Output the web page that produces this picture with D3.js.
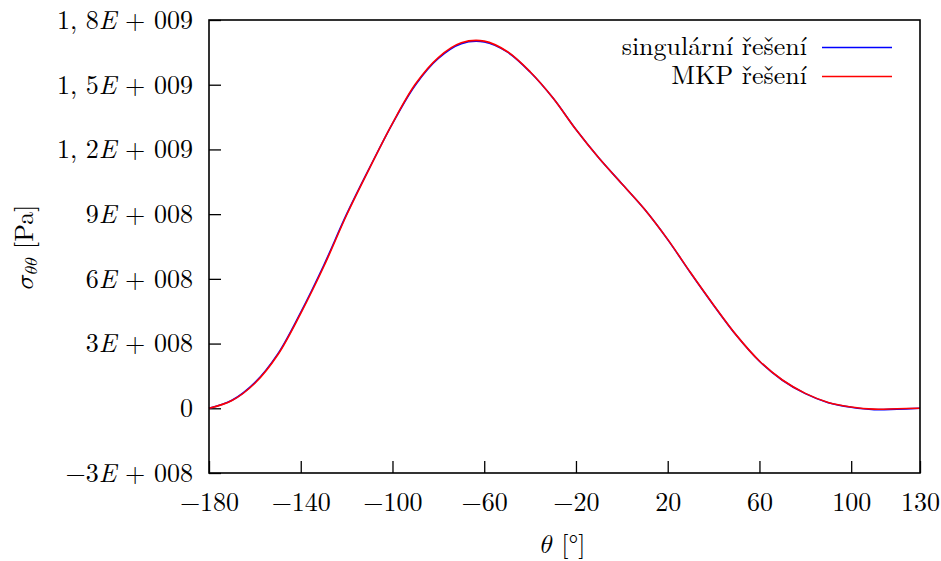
<!DOCTYPE html>
<html>
<head>
<meta charset="utf-8">
<script src="https://cdn.jsdelivr.net/npm/d3@7"></script>
<style>
  body { margin: 0; background: #fff; }
</style>
</head>
<body>
<script>
// theta [deg] and sigma_theta_theta [1e9 Pa]
let theta = [-180, -170, -160, -150, -140, -130, -120, -110, -100, -90, -80, -70, -60,
  -50, -40, -30, -20, -10, 0, 10, 20, 30, 40, 50, 60, 70, 80, 90, 100, 110, 120, 130]
let singular = [0.000, 0.037, 0.119, 0.252, 0.445, 0.662, 0.900, 1.115, 1.320, 1.499, 1.622, 1.690, 1.698,
  1.652, 1.559, 1.438, 1.292, 1.160, 1.041, 0.921, 0.782, 0.627, 0.478, 0.337, 0.218, 0.130, 0.068, 0.026, 0.005, -0.006, -0.004, 0.000]
let mkp = [0.000, 0.036, 0.116, 0.248, 0.440, 0.656, 0.896, 1.113, 1.321, 1.503, 1.626, 1.694, 1.702,
  1.654, 1.560, 1.438, 1.292, 1.160, 1.041, 0.922, 0.783, 0.628, 0.479, 0.338, 0.219, 0.131, 0.069, 0.027, 0.006, -0.004, -0.002, 0.000]
let seriesNames = ['singulární řešení', 'MKP řešení']
let seriesColors = ['#0000ff', '#ff0000']

let xTicks = [-180, -140, -100, -60, -20, 20, 60, 100, 130]
let yTicks = [-3e8, 0, 3e8, 6e8, 9e8, 1.2e9, 1.5e9, 1.8e9]
let yTickLabels = ['−3E + 008', '0', '3E + 008', '6E + 008', '9E + 008', '1, 2E + 009', '1, 5E + 009', '1, 8E + 009']

let width = 941
let height = 561
let margin = {left: 209, right: 21, top: 20, bottom: 88}
let fontSize = 26
let font = "'Latin Modern Roman', 'Liberation Serif', serif"
let mathFont = "'Latin Modern Math', 'Latin Modern Roman', serif"

let svg = d3.select('body').append('svg')
  .attr('width', width)
  .attr('height', height)

let x = d3.scaleLinear().domain([-180, 130]).range([margin.left, width - margin.right])
let y = d3.scaleLinear().domain([-3e8, 1.8e9]).range([height - margin.bottom, margin.top])

// y axis, ticks pointing inward
let yAxis = d3.axisLeft(y)
  .tickValues(yTicks)
  .tickSizeInner(-12)
  .tickSizeOuter(0)
  .tickPadding(16)
  .tickFormat((d, i) => yTickLabels[i])
let gy = svg.append('g')
  .attr('transform', 'translate(' + margin.left + ',0)')
  .call(yAxis)
gy.select('.domain').remove()
gy.selectAll('line').attr('stroke', '#000').attr('stroke-width', 1.3)
gy.selectAll('text')
  .style('font-family', font)
  .style('font-size', fontSize + 'px')
  .attr('fill', '#000')
  .each(function (d, i) {
    let t = d3.select(this)
    let parts = yTickLabels[i].split('E')
    t.text(null)
    t.append('tspan').text(parts[0])
    if (parts.length > 1) {
      t.append('tspan').style('font-style', 'italic').text('E')
      t.append('tspan').text(parts[1])
    }
  })

// x axis
let xAxis = d3.axisBottom(x)
  .tickValues(xTicks)
  .tickSizeInner(-12)
  .tickSizeOuter(0)
  .tickPadding(20)
  .tickFormat((d) => d < 0 ? '−' + Math.abs(d) : String(d))
let gx = svg.append('g')
  .attr('transform', 'translate(0,' + (height - margin.bottom) + ')')
  .call(xAxis)
gx.select('.domain').remove()
gx.selectAll('line').attr('stroke', '#000').attr('stroke-width', 1.3)
gx.selectAll('text')
  .style('font-family', font)
  .style('font-size', fontSize + 'px')
  .attr('fill', '#000')

// curves
let rows = theta.map((t, i) => ({t: t, s: singular[i] * 1e9, m: mkp[i] * 1e9}))
let line = (key) => d3.line()
  .x((d) => x(d.t))
  .y((d) => y(d[key]))
  .curve(d3.curveCatmullRom.alpha(0.5))

svg.append('path')
  .datum(rows)
  .attr('d', line('s'))
  .attr('fill', 'none')
  .attr('stroke', seriesColors[0])
  .attr('stroke-width', 1.6)
svg.append('path')
  .datum(rows)
  .attr('d', line('m'))
  .attr('fill', 'none')
  .attr('stroke', seriesColors[1])
  .attr('stroke-width', 1.6)

// frame
svg.append('rect')
  .attr('x', margin.left)
  .attr('y', margin.top)
  .attr('width', width - margin.left - margin.right)
  .attr('height', height - margin.top - margin.bottom)
  .attr('fill', 'none')
  .attr('stroke', '#000')
  .attr('stroke-width', 1.6)

// legend
let legend = svg.selectAll('.legendItem')
  .data(seriesNames)
  .enter()
  .append('g')
  .attr('class', 'legendItem')
  .attr('transform', (d, i) => 'translate(0,' + (47.5 + 29 * i) + ')')
legend.append('text')
  .attr('x', 807)
  .attr('dy', '0.3em')
  .attr('text-anchor', 'end')
  .style('font-family', font)
  .style('font-size', fontSize + 'px')
  .text((d) => d)
legend.append('line')
  .attr('x1', 822)
  .attr('x2', 892)
  .attr('stroke', (d, i) => seriesColors[i])
  .attr('stroke-width', 1.6)

// axis titles
let xt = svg.append('text')
  .attr('x', 563)
  .attr('y', 553)
  .attr('text-anchor', 'middle')
  .style('font-family', font)
  .style('font-size', fontSize + 'px')
xt.append('tspan').style('font-family', mathFont).text('𝜃')
xt.append('tspan').text(' [°]')

let yt = svg.append('text')
  .attr('transform', 'translate(33,247) rotate(-90)')
  .attr('text-anchor', 'middle')
  .style('font-family', font)
  .style('font-size', fontSize + 'px')
yt.append('tspan').style('font-family', mathFont).text('𝜎')
yt.append('tspan').style('font-family', mathFont).style('font-size', '18px').attr('dy', 4).text('𝜃𝜃')
yt.append('tspan').attr('dy', -4).text(' [Pa]')
</script>
</body>
</html>
